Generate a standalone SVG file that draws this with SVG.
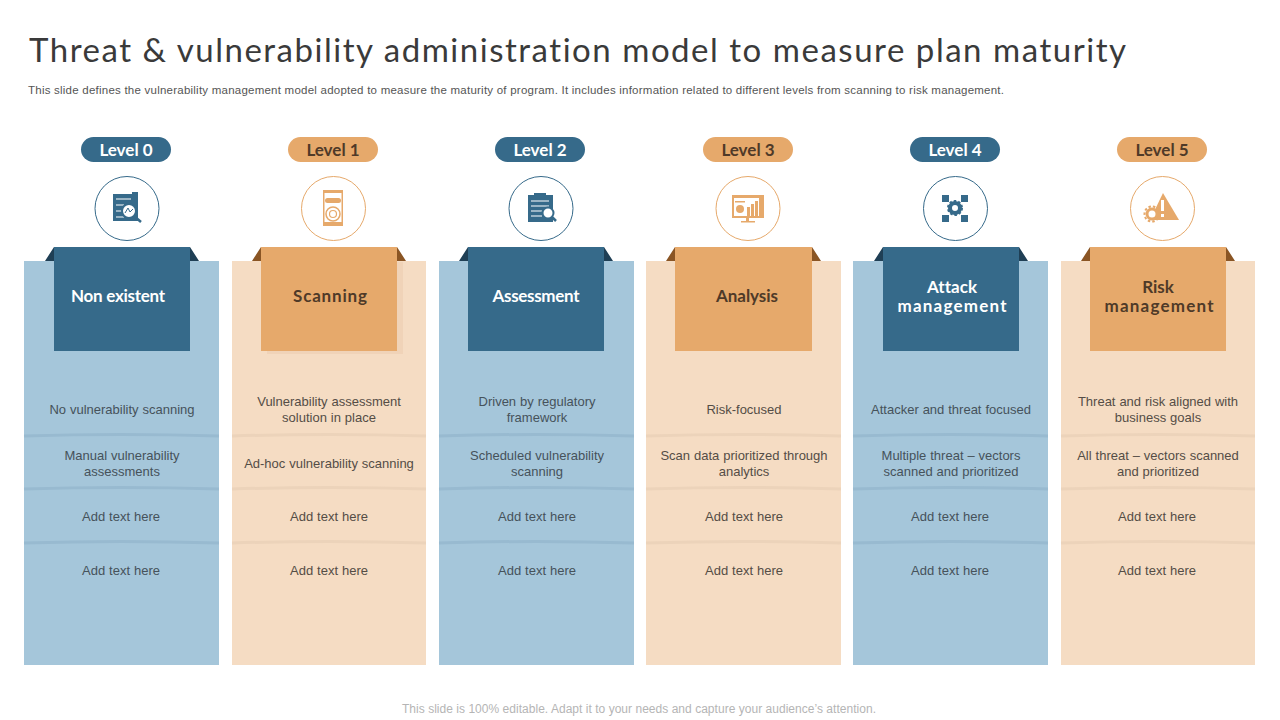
<svg xmlns="http://www.w3.org/2000/svg" width="1280" height="720" viewBox="0 0 1280 720">
<style>
text{font-family:"Liberation Sans",Arial,sans-serif;text-anchor:middle;font-variant-ligatures:none}
.title{font-family:"Lato","Liberation Sans",sans-serif;font-size:33px;fill:#3a3a3a;text-anchor:start}
.sub{font-size:11.5px;fill:#555;text-anchor:start}
.foot{font-size:12px;fill:#b5b5b5}
.body{font-size:13px;fill:#46525b;word-spacing:.3px}
.bo{font-size:13px;fill:#544d46;word-spacing:.3px}
.pill{font-family:"Lato","Liberation Sans",sans-serif;font-size:17px;font-weight:700}
.hd{font-family:"Lato","Liberation Sans",sans-serif;font-size:17px;font-weight:700}
.lb{fill:#a5c6da}.lo{fill:#f5dcc3}
.db{fill:#366a8a}.do{fill:#e6a96b}
.fb{fill:#1f3f55}.fo{fill:#8a5524}
.wt{fill:#fff}.bt{fill:#4f3a28}
.cb{fill:#fff;stroke:#366a8a;stroke-width:1}.co{fill:#fff;stroke:#e6a96b;stroke-width:1}
.divb{stroke:#98bad0;stroke-width:3;fill:none}.divo{stroke:#ecd3ba;stroke-width:3;fill:none}
.ib{fill:#366a8a}.io{fill:#e6a96b}
.il{stroke:#fff;stroke-width:1.2;fill:none}
</style>
<text class="title" x="29" y="62" textLength="1097" lengthAdjust="spacing">Threat &amp; vulnerability administration model to measure plan maturity</text>
<text class="sub" x="28" y="94" textLength="976" lengthAdjust="spacing">This slide defines the vulnerability management model adopted to measure the maturity of program. It includes information related to different levels from scanning to risk management.</text>

<g id="level-0">
<rect class="lb" x="24" y="261" width="195" height="404"/>
<path class="fb" d="M45 261L54 247V261ZM199 261L190 247V261Z"/>
<rect class="db" x="54" y="247" width="136" height="104"/>
<text class="hd wt" x="118" y="302" textLength="94" lengthAdjust="spacing">Non existent</text>
<rect class="db" x="81" y="137" width="90" height="25" rx="12.500"/>
<text class="pill wt" x="126" y="155.500">Level 0</text>
<circle class="cb" cx="127" cy="208.500" r="32"/>
<g><rect class="ib" x="113" y="194" width="25" height="27"/><rect class="ib" x="132" y="192" width="6" height="5"/><path class="il" d="M116 199H131M116 205H124M116 211H124M116 217H124"/><circle cx="129" cy="211" r="7" fill="#fff" stroke="#366a8a" stroke-width="2"/><path d="M134 216L141 222" stroke="#366a8a" stroke-width="2.500"/><path d="M125 213L128 208L130 212L133 209" stroke="#366a8a" fill="none"/></g>
<path class="divb" d="M24 436Q121 433 219 436M24 489Q121 486 219 489M24 543Q121 540 219 543"/>
<text class="body" x="122" y="414">No vulnerability  scanning</text>
<text class="body" x="122" y="460">Manual vulnerability</text>
<text class="body" x="122" y="476">assessments</text>
<text class="body" x="121" y="521">Add text here</text>
<text class="body" x="121" y="575">Add text here</text>
</g>

<g id="level-1">
<rect class="lo" x="232" y="261" width="194" height="404"/>
<rect x="267" y="262" width="136" height="92" fill="#eccdb0" opacity=".6"/>
<path class="fo" d="M252 261L261 247V261ZM406 261L397 247V261Z"/>
<rect class="do" x="261" y="247" width="136" height="104"/>
<text class="hd bt" x="330" y="302" textLength="74" lengthAdjust="spacing">Scanning</text>
<rect class="do" x="288" y="137" width="90" height="25" rx="12.500"/>
<text class="pill bt" x="333" y="155.500">Level 1</text>
<circle class="co" cx="333.500" cy="208.500" r="32"/>
<g><rect class="io" x="323" y="190" width="20" height="36"/><rect x="324.500" y="193" width="17" height="29" fill="#fff"/><rect class="io" x="325" y="198" width="16" height="5" rx="2.500"/><circle cx="333" cy="214" r="7" fill="none" stroke="#e6a96b" stroke-width="1.500"/><circle cx="333" cy="214" r="3.500" fill="none" stroke="#e6a96b" stroke-width="1.200"/></g>
<path class="divo" d="M232 436Q329 433 426 436M232 489Q329 486 426 489M232 543Q329 540 426 543"/>
<text class="bo" x="329" y="406">Vulnerability assessment</text>
<text class="bo" x="329" y="422">solution in place</text>
<text class="bo" x="329" y="468">Ad-hoc vulnerability  scanning</text>
<text class="bo" x="329" y="521">Add text here</text>
<text class="bo" x="329" y="575">Add text here</text>
</g>

<g id="level-2">
<rect class="lb" x="439" y="261" width="195" height="404"/>
<path class="fb" d="M459 261L468 247V261ZM613 261L604 247V261Z"/>
<rect class="db" x="468" y="247" width="136" height="104"/>
<text class="hd wt" x="536" y="302" textLength="87" lengthAdjust="spacing">Assessment</text>
<rect class="db" x="495" y="137" width="90" height="25" rx="12.500"/>
<text class="pill wt" x="540" y="155.500">Level 2</text>
<circle class="cb" cx="541" cy="208.500" r="32"/>
<g><rect class="ib" x="528" y="195" width="25" height="27"/><rect class="ib" x="534" y="193" width="12" height="4"/><path class="il" d="M531 201H549M531 206H549M531 211H542M531 216H542"/><circle cx="548" cy="213" r="5.500" fill="#fff" stroke="#366a8a" stroke-width="2"/><path d="M552 217L556 221" stroke="#366a8a" stroke-width="2.500"/></g>
<path class="divb" d="M439 436Q536 433 634 436M439 489Q536 486 634 489M439 543Q536 540 634 543"/>
<text class="body" x="537" y="406">Driven  by regulatory</text>
<text class="body" x="537" y="422">framework</text>
<text class="body" x="537" y="460">Scheduled vulnerability</text>
<text class="body" x="537" y="476">scanning</text>
<text class="body" x="537" y="521">Add text here</text>
<text class="body" x="537" y="575">Add text here</text>
</g>

<g id="level-3">
<rect class="lo" x="646" y="261" width="195" height="404"/>
<path class="fo" d="M666 261L675 247V261ZM821 261L812 247V261Z"/>
<rect class="do" x="675" y="247" width="137" height="104"/>
<text class="hd bt" x="747" y="302" textLength="62" lengthAdjust="spacing">Analysis</text>
<rect class="do" x="703" y="137" width="90" height="25" rx="12.500"/>
<text class="pill bt" x="748" y="155.500">Level 3</text>
<circle class="co" cx="748" cy="208.500" r="32"/>
<g><rect class="io" x="732" y="195" width="32" height="23"/><rect x="734" y="198" width="28" height="18" fill="#fff"/><rect class="io" x="746" y="218" width="3" height="4"/><rect class="io" x="741" y="221" width="14" height="1.500"/><circle class="io" cx="740" cy="209" r="4"/><path class="io" d="M747 207h3v9h-3zM751 204h3v12h-3zM755 201h3v15h-3zM759 198h3v18h-3zM735 201h10v1.500h-10z"/></g>
<path class="divo" d="M646 436Q743 433 841 436M646 489Q743 486 841 489M646 543Q743 540 841 543"/>
<text class="bo" x="744" y="414">Risk-focused</text>
<text class="bo" x="744" y="460">Scan data prioritized through</text>
<text class="bo" x="744" y="476">analytics</text>
<text class="bo" x="744" y="521">Add text here</text>
<text class="bo" x="744" y="575">Add text here</text>
</g>

<g id="level-4">
<rect class="lb" x="853" y="261" width="195" height="404"/>
<path class="fb" d="M874 261L883 247V261ZM1028 261L1019 247V261Z"/>
<rect class="db" x="883" y="247" width="136" height="104"/>
<text class="hd wt" x="952" y="293" textLength="50" lengthAdjust="spacing">Attack</text>
<text class="hd wt" x="952" y="312" textLength="109" lengthAdjust="spacing">management</text>
<rect class="db" x="910" y="137" width="90" height="25" rx="12.500"/>
<text class="pill wt" x="955" y="155.500">Level 4</text>
<circle class="cb" cx="955.500" cy="208.500" r="32"/>
<g><rect class="ib" x="942" y="195" width="7" height="7"/><rect class="ib" x="961" y="195" width="7" height="7"/><rect class="ib" x="942" y="215" width="7" height="7"/><rect class="ib" x="961" y="215" width="7" height="7"/><circle cx="955" cy="208" r="5" fill="#fff" stroke="#366a8a" stroke-width="4"/><circle cx="955" cy="208" r="7" fill="none" stroke="#366a8a" stroke-width="2" stroke-dasharray="2.500 2"/></g>
<path class="divb" d="M853 436Q950 433 1048 436M853 489Q950 486 1048 489M853 543Q950 540 1048 543"/>
<text class="body" x="951" y="414">Attacker and threat focused</text>
<text class="body" x="951" y="460">Multiple threat – vectors</text>
<text class="body" x="951" y="476">scanned and prioritized</text>
<text class="body" x="950" y="521">Add text here</text>
<text class="body" x="950" y="575">Add text here</text>
</g>

<g id="level-5">
<rect class="lo" x="1061" y="261" width="194" height="404"/>
<path class="fo" d="M1081 261L1090 247V261ZM1235 261L1226 247V261Z"/>
<rect class="do" x="1090" y="247" width="136" height="104"/>
<text class="hd bt" x="1158" y="293">Risk</text>
<text class="hd bt" x="1159" y="312" textLength="109" lengthAdjust="spacing">management</text>
<rect class="do" x="1117" y="137" width="90" height="25" rx="12.500"/>
<text class="pill bt" x="1162" y="155.500">Level 5</text>
<circle class="co" cx="1162.500" cy="208.500" r="32"/>
<g><path class="io" d="M1163 193L1179 220H1150Z"/><path d="M1161 200h3v11h-3zM1161 214h3v3h-3z" fill="#fff"/><circle cx="1152" cy="214" r="5" fill="#fff" stroke="#e6a96b" stroke-width="3"/><circle cx="1152" cy="214" r="7.500" fill="none" stroke="#e6a96b" stroke-width="2" stroke-dasharray="2.500 2"/></g>
<path class="divo" d="M1061 436Q1158 433 1255 436M1061 489Q1158 486 1255 489M1061 543Q1158 540 1255 543"/>
<text class="bo" x="1158" y="406">Threat  and risk aligned with</text>
<text class="bo" x="1158" y="422">business goals</text>
<text class="bo" x="1158" y="460">All threat – vectors scanned</text>
<text class="bo" x="1158" y="476">and prioritized</text>
<text class="bo" x="1157" y="521">Add text here</text>
<text class="bo" x="1157" y="575">Add text here</text>
</g>
<g id="connectors"/>
<text class="foot" x="639" y="713" textLength="474" lengthAdjust="spacing">This slide is 100% editable. Adapt it to your needs and capture your audience’s attention.</text>
</svg>
